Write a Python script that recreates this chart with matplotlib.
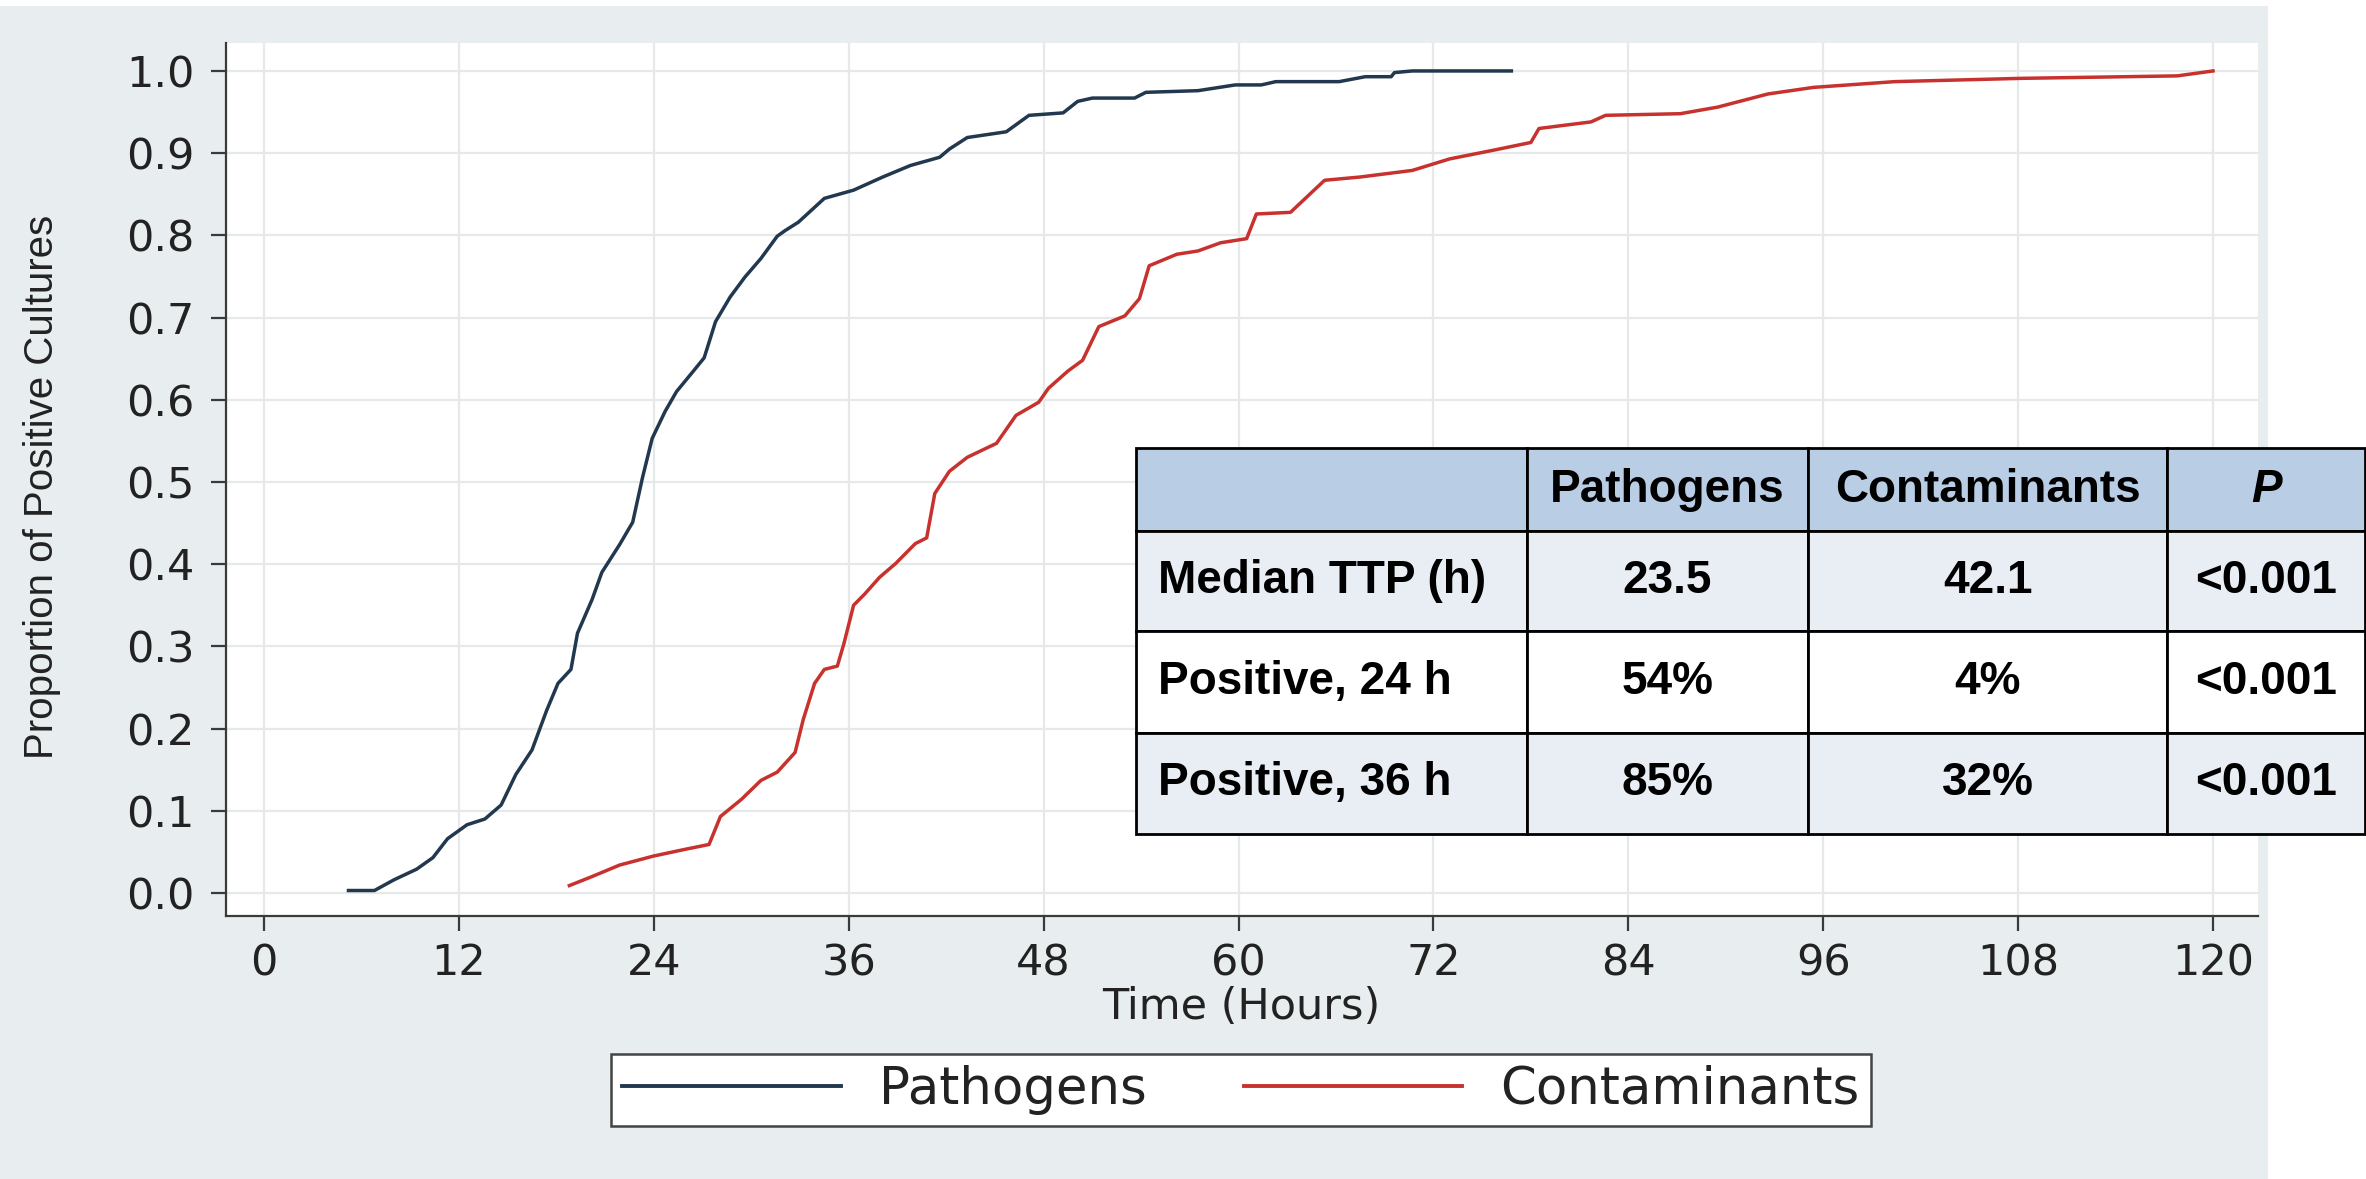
import matplotlib
matplotlib.use("Agg")
import matplotlib.pyplot as plt
from matplotlib.patches import Rectangle
from matplotlib.lines import Line2D

# ---------------- data ----------------
path_t = [5.2, 6.8, 8.0, 9.4, 10.4, 11.3, 12.5, 13.6, 14.6, 15.5, 16.5, 17.4, 18.1, 18.9,
          19.3, 20.2, 20.8, 21.9, 22.7, 23.3, 23.9, 24.7, 25.4, 26.4, 27.1, 27.8, 28.7,
          29.6, 30.6, 31.6, 32.1, 32.9, 34.5, 36.3, 38.1, 39.8, 41.6, 42.2, 43.3, 45.7,
          47.1, 49.2, 50.1, 51.0, 53.6, 54.3, 57.5, 59.8, 61.4, 62.3, 66.2, 67.8, 69.4,
          69.6, 70.7, 76.8]
path_p = [0.003, 0.003, 0.016, 0.029, 0.043, 0.066, 0.083, 0.090, 0.107, 0.144, 0.174,
          0.222, 0.255, 0.272, 0.316, 0.357, 0.390, 0.424, 0.451, 0.505, 0.553, 0.586,
          0.610, 0.634, 0.651, 0.695, 0.725, 0.749, 0.772, 0.799, 0.806, 0.816, 0.845,
          0.855, 0.871, 0.885, 0.895, 0.905, 0.919, 0.926, 0.946, 0.949, 0.963, 0.967,
          0.967, 0.974, 0.976, 0.983, 0.983, 0.987, 0.987, 0.993, 0.993, 0.998, 1.000,
          1.000]

cont_t = [18.8, 20.2, 21.9, 24.0, 25.9, 27.4, 28.1, 29.4, 30.6, 31.6, 32.7, 33.2, 33.9,
          34.5, 35.3, 35.7, 36.3, 37.0, 37.9, 38.9, 40.1, 40.8, 41.3, 42.2, 43.3, 45.1,
          46.3, 47.7, 48.3, 49.5, 50.4, 51.4, 53.0, 53.9, 54.5, 56.2, 57.5, 58.9, 60.5,
          61.1, 63.2, 65.3, 67.5, 70.7, 73.0, 75.8, 78.0, 78.5, 81.7, 82.6, 87.2, 89.5,
          92.6, 95.4, 100.4, 108.2, 117.8, 120.0]
cont_p = [0.009, 0.020, 0.034, 0.045, 0.053, 0.059, 0.093, 0.114, 0.137, 0.147, 0.171,
          0.211, 0.255, 0.272, 0.276, 0.303, 0.350, 0.364, 0.384, 0.401, 0.425, 0.432,
          0.486, 0.513, 0.530, 0.547, 0.581, 0.597, 0.614, 0.635, 0.648, 0.689, 0.702,
          0.723, 0.763, 0.777, 0.781, 0.791, 0.796, 0.826, 0.828, 0.867, 0.871, 0.879,
          0.893, 0.904, 0.913, 0.930, 0.938, 0.946, 0.948, 0.956, 0.972, 0.980, 0.987,
          0.991, 0.994, 1.000]

x_ticks = [0, 12, 24, 36, 48, 60, 72, 84, 96, 108, 120]
y_ticks = [0.0, 0.1, 0.2, 0.3, 0.4, 0.5, 0.6, 0.7, 0.8, 0.9, 1.0]
series_labels = ["Pathogens", "Contaminants"]

table_header = ["", "Pathogens", "Contaminants", "P"]
table_rows = [
    ["Median TTP (h)", "23.5", "42.1", "<0.001"],
    ["Positive, 24 h", "54%", "4%", "<0.001"],
    ["Positive, 36 h", "85%", "32%", "<0.001"],
]

# ---------------- style ----------------
plt.rcParams["font.family"] = ["DejaVu Sans"]
W, H = 2366, 1179
fig = plt.figure(figsize=(W / 100, H / 100), dpi=100)
fig.patch.set_facecolor("white")

bg = "#E8EEF0"
fig.add_artist(Rectangle((0, 0), 2268 / W, 1 - 6 / H, transform=fig.transFigure,
                         facecolor=bg, edgecolor="none", zorder=0))

c_path = "#22384f"
c_cont = "#c8322e"
axcol = "#3a3a3a"

ax = fig.add_axes([226 / W, 1 - 916 / H, (2258 - 226) / W, (916 - 43) / H])
ax.set_facecolor("white")
ax.plot(path_t, path_p, color=c_path, lw=2.5, label=series_labels[0])
ax.plot(cont_t, cont_p, color=c_cont, lw=2.5, label=series_labels[1])
ax.set_xlim(-2.34, 122.77)
ax.set_ylim(-0.028, 1.034)
ax.set_xticks(x_ticks)
ax.set_xticklabels([str(v) for v in x_ticks])
ax.set_yticks(y_ticks)
ax.set_yticklabels([f"{v:.1f}" for v in y_ticks])
for s in ["top", "right"]:
    ax.spines[s].set_visible(False)
for s in ["left", "bottom"]:
    ax.spines[s].set_color(axcol)
    ax.spines[s].set_linewidth(1.6)
ax.tick_params(axis="both", length=10.8, width=1.6, color=axcol, labelsize=31,
               labelcolor="#222222")
ax.tick_params(axis="y", pad=12)
ax.tick_params(axis="x", pad=8)
ax.grid(True, color="#e6e9ea", lw=1.6)
ax.set_axisbelow(True)

fig.text(42 / W, 1 - 487 / H, "Proportion of Positive Cultures", rotation=90,
         ha="center", va="center", fontsize=29, color="#222222",
         family=["Liberation Sans", "DejaVu Sans"])
fig.text(1241 / W, 1 - 1007 / H, "Time (Hours)", ha="center", va="center",
         fontsize=31, color="#222222")

handles = [Line2D([], [], color=c_path, lw=2.8), Line2D([], [], color=c_cont, lw=2.8)]
leg = fig.legend(handles, series_labels, loc="center",
                 bbox_to_anchor=(1241 / W, 1 - 1090 / H), ncol=2, frameon=True,
                 fancybox=False, edgecolor="#444444", framealpha=1, facecolor="white",
                 fontsize=37, handlelength=4.25, handletextpad=0.74, columnspacing=1.9,
                 borderpad=0.22)
leg.get_frame().set_linewidth(1.8)
for t in leg.get_texts():
    t.set_color("#222222")

# ---------------- table ----------------
tax = fig.add_axes([1136 / W, 1 - 834 / H, (2365 - 1136) / W, (834 - 448) / H])
tax.axis("off")
col_w = [391, 281, 359, 198]
row_h = [83, 100, 101, 101]
tbl = tax.table(cellText=[table_header] + table_rows, colWidths=col_w,
                cellLoc="center", bbox=[0, 0, 1, 1])
tbl.auto_set_font_size(False)
fills = ["#B9CDE5", "#E9EDF4", "#FFFFFF", "#E9EDF4"]
for (r, c), cell in tbl.get_celld().items():
    cell.set_height(row_h[r])
    cell.set_facecolor(fills[r])
    cell.set_edgecolor("black")
    cell.set_linewidth(2.0)
    txt = cell.get_text()
    txt.set_fontsize(33)
    txt.set_fontweight("bold")
    txt.set_fontfamily(["Liberation Sans", "DejaVu Sans"])
    if r == 0 and c == 3:
        txt.set_fontstyle("italic")
    if c == 0 and r > 0:
        cell._loc = "left"
        cell.PAD = 0.055
        txt.set_ha("left")

fig.savefig("out.png", dpi=100, facecolor="white")
